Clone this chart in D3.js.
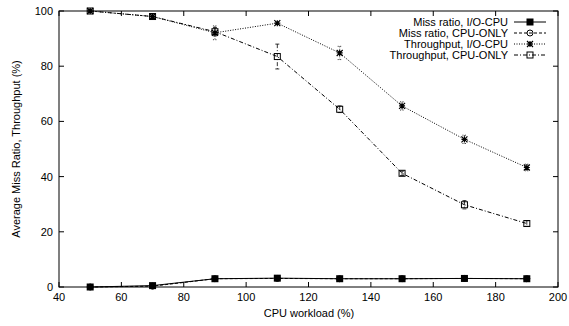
<!DOCTYPE html>
<html>
<head>
<meta charset="utf-8">
<script src="https://cdn.jsdelivr.net/npm/d3@7"></script>
<style>
body { margin: 0; background: #fff; }
text { font-family: "Liberation Sans", Arial, sans-serif; fill: #000; }
</style>
</head>
<body>
<div class="root"></div>
<script>
var workload = [50, 70, 90, 110, 130, 150, 170, 190];
var missIO = [0, 0.5, 3, 3.2, 3, 3, 3.1, 3];
var missCPU = [0, 0.3, 3, 3.1, 3, 3, 3.1, 3];
var thrIO = [100, 98, 92.1, 95.6, 84.8, 65.6, 53.5, 43.3];
var thrIOErr = [0.3, 0.5, 2.5, 0.5, 2.4, 1.5, 1.5, 1.2];
var thrCPU = [100, 98, 92.5, 83.5, 64.4, 41.2, 29.8, 23];
var thrCPUErr = [0.3, 0.5, 1.5, 4.5, 1.2, 0.8, 1.5, 1];
var xTicks = [40, 60, 80, 100, 120, 140, 160, 180, 200];
var yTicks = [0, 20, 40, 60, 80, 100];

var w = 569, h = 326;
var svg = d3.select('.root').append('svg').attr('width', w).attr('height', h);

var x = d3.scaleLinear().domain([40, 200]).range([59, 558]);
var y = d3.scaleLinear().domain([0, 100]).range([287, 11]);

var series = [
  { name: 'Miss ratio, I/O-CPU', vals: missIO, err: null, dash: null, marker: 'fsquare' },
  { name: 'Miss ratio, CPU-ONLY', vals: missCPU, err: null, dash: '3,2', marker: 'circle' },
  { name: 'Throughput, I/O-CPU', vals: thrIO, err: thrIOErr, dash: '1,1.5', marker: 'star' },
  { name: 'Throughput, CPU-ONLY', vals: thrCPU, err: thrCPUErr, dash: '4,2,1,2', marker: 'square' }
];

// frame
svg.append('rect').attr('x', 59).attr('y', 11).attr('width', 499).attr('height', 276)
  .attr('fill', 'none').attr('stroke', '#000').attr('stroke-width', 1);

// ticks on all four sides
xTicks.forEach(function(t) {
  svg.append('line').attr('x1', x(t)).attr('x2', x(t)).attr('y1', 287).attr('y2', 282).attr('stroke', '#000');
  svg.append('line').attr('x1', x(t)).attr('x2', x(t)).attr('y1', 11).attr('y2', 16).attr('stroke', '#000');
  svg.append('text').attr('x', x(t)).attr('y', 301).attr('text-anchor', 'middle')
    .style('font-size', '11px').text(t);
});
yTicks.forEach(function(t) {
  svg.append('line').attr('x1', 59).attr('x2', 64).attr('y1', y(t)).attr('y2', y(t)).attr('stroke', '#000');
  svg.append('line').attr('x1', 558).attr('x2', 553).attr('y1', y(t)).attr('y2', y(t)).attr('stroke', '#000');
  svg.append('text').attr('x', 53).attr('y', y(t) + 4).attr('text-anchor', 'end')
    .style('font-size', '11px').text(t);
});

svg.append('text').attr('x', 309).attr('y', 317).attr('text-anchor', 'middle')
  .style('font-size', '11px').text('CPU workload (%)');
svg.append('text').attr('transform', 'translate(20,149) rotate(-90)').attr('text-anchor', 'middle')
  .style('font-size', '11px').text('Average Miss Ratio, Throughput (%)');

function drawMarker(g, type, cx, cy) {
  if (type === 'fsquare') {
    g.append('rect').attr('x', cx - 3.5).attr('y', cy - 3.5).attr('width', 7).attr('height', 7).attr('fill', '#000');
  } else if (type === 'square') {
    g.append('rect').attr('x', cx - 3).attr('y', cy - 3).attr('width', 6).attr('height', 6)
      .attr('fill', 'none').attr('stroke', '#000').attr('stroke-width', 1);
  } else if (type === 'circle') {
    g.append('circle').attr('cx', cx).attr('cy', cy).attr('r', 3)
      .attr('fill', 'none').attr('stroke', '#000').attr('stroke-width', 1);
  } else if (type === 'star') {
    var s = 3;
    g.append('path').attr('d', 'M' + (cx - s) + ',' + cy + 'H' + (cx + s) +
      'M' + cx + ',' + (cy - s) + 'V' + (cy + s) +
      'M' + (cx - s) + ',' + (cy - s) + 'L' + (cx + s) + ',' + (cy + s) +
      'M' + (cx - s) + ',' + (cy + s) + 'L' + (cx + s) + ',' + (cy - s))
      .attr('stroke', '#000').attr('stroke-width', 1.2).attr('fill', 'none');
  }
}

var line = d3.line().x(function(d) { return x(d[0]); }).y(function(d) { return y(d[1]); });

series.slice().reverse().forEach(function(s) {
  var g = svg.append('g');
  var pts = workload.map(function(wv, i) { return [wv, s.vals[i]]; });
  g.append('path').attr('d', line(pts)).attr('fill', 'none').attr('stroke', '#000')
    .attr('stroke-width', 1).attr('stroke-dasharray', s.dash);
  if (s.err) {
    workload.forEach(function(wv, i) {
      var cx = x(wv), y1 = y(s.vals[i] + s.err[i]), y2 = y(s.vals[i] - s.err[i]);
      g.append('path').attr('d', 'M' + cx + ',' + y1 + 'V' + y2 +
        'M' + (cx - 2) + ',' + y1 + 'H' + (cx + 2) + 'M' + (cx - 2) + ',' + y2 + 'H' + (cx + 2))
        .attr('stroke', '#000').attr('stroke-width', 0.8).attr('fill', 'none')
        .attr('stroke-dasharray', s.dash);
    });
  }
  workload.forEach(function(wv, i) { drawMarker(g, s.marker, x(wv), y(s.vals[i])); });
});

// legend
series.forEach(function(s, i) {
  var ly = 22 + i * 11;
  svg.append('text').attr('x', 508).attr('y', ly + 4).attr('text-anchor', 'end')
    .style('font-size', '11px').text(s.name);
  svg.append('line').attr('x1', 514).attr('x2', 546).attr('y1', ly).attr('y2', ly)
    .attr('stroke', '#000').attr('stroke-width', 1).attr('stroke-dasharray', s.dash);
  drawMarker(svg, s.marker, 530, ly);
});
</script>
</body>
</html>
